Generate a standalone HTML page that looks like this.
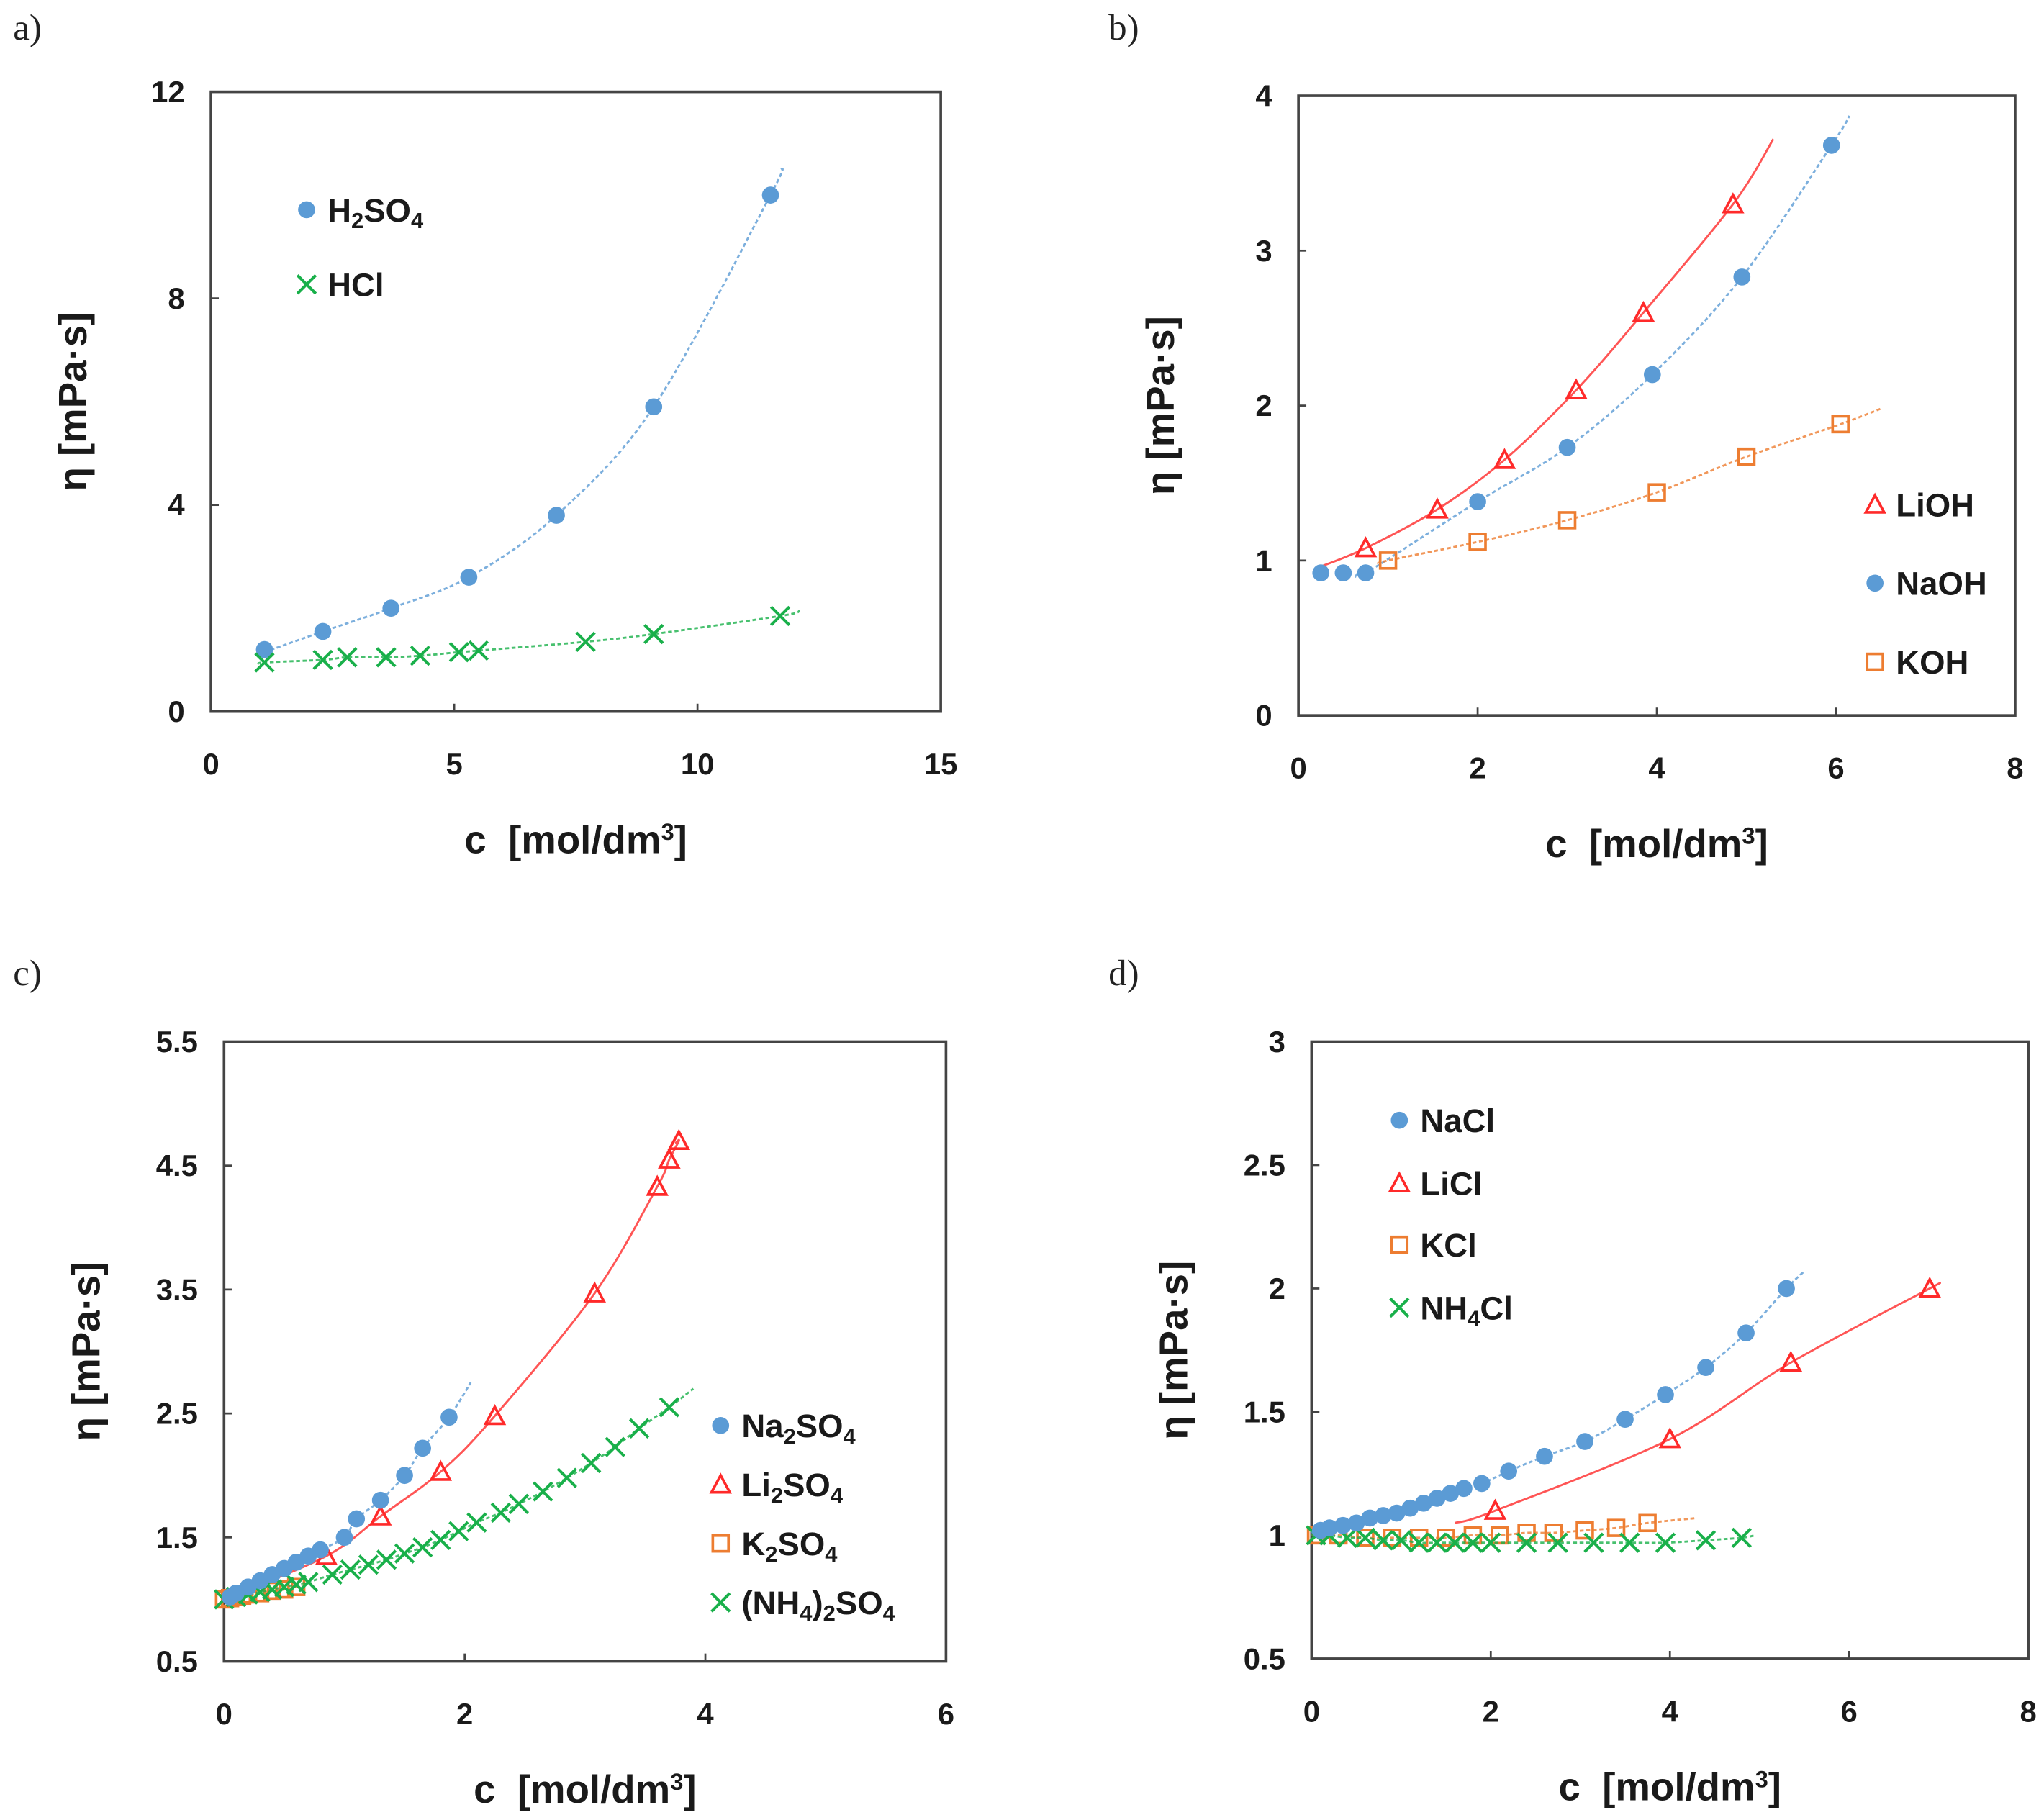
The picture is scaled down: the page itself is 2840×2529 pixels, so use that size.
<!DOCTYPE html>
<html><head><meta charset="utf-8">
<style>
html,body{margin:0;padding:0;background:#fff;}
svg{display:block;}
text{font-family:"Liberation Sans",sans-serif;}
.tick{font-size:23px;font-weight:bold;fill:#1a1a1a;}
.title{font-size:30px;font-weight:bold;fill:#1a1a1a;}
.leg{font-size:25px;font-weight:bold;fill:#1a1a1a;}
.plab{font-family:"Liberation Serif",serif;font-size:28px;fill:#222;}
</style></head>
<body>
<svg id="fig" width="2840" height="2529" viewBox="0 0 1560 1389" xmlns="http://www.w3.org/2000/svg"></svg>
<script>
// ---- data ----
const aH2SO4X=[1.1,2.3,3.7,5.3,7.1,9.1,11.5];
const aH2SO4Y=[1.2,1.55,2.0,2.6,3.8,5.9,10.0];
const aHClX=[1.1,2.3,2.8,3.6,4.3,5.1,5.5,7.7,9.1,11.7];
const aHClY=[0.95,1.0,1.05,1.05,1.08,1.15,1.18,1.35,1.5,1.85];
const bLiOHX=[0.75,1.55,2.3,3.1,3.85,4.85];
const bLiOHY=[1.08,1.33,1.65,2.1,2.6,3.3];
const bNaOHX=[0.25,0.5,0.75,2,3,3.95,4.95,5.95];
const bNaOHY=[0.92,0.92,0.92,1.38,1.73,2.2,2.83,3.68];
const bKOHX=[1,2,3,4,5,6.05];
const bKOHY=[1.0,1.12,1.26,1.44,1.67,1.88];
const cNaX=[0.05,0.1,0.2,0.3,0.4,0.5,0.6,0.7,0.8,1.0,1.1,1.3,1.5,1.65,1.87];
const cNaY=[1.02,1.05,1.1,1.15,1.2,1.25,1.3,1.35,1.4,1.5,1.65,1.8,2.0,2.22,2.47];
const cLiX=[0.85,1.3,1.8,2.25,3.08,3.6,3.7,3.78];
const cLiY=[1.35,1.67,2.03,2.48,3.47,4.33,4.55,4.7];
const cKX=[0,0.05,0.1,0.15,0.2,0.3,0.4,0.5,0.6];
const cKY=[1.0,1.01,1.02,1.03,1.04,1.05,1.07,1.08,1.1];
const cNHX=[0,0.1,0.2,0.3,0.4,0.5,0.6,0.7,0.9,1.05,1.2,1.35,1.5,1.65,1.8,1.95,2.1,2.3,2.45,2.65,2.85,3.05,3.25,3.45,3.7];
const cNHY=[1.0,1.02,1.04,1.06,1.08,1.1,1.12,1.14,1.2,1.24,1.28,1.32,1.37,1.42,1.48,1.55,1.62,1.7,1.77,1.87,1.98,2.1,2.23,2.38,2.55];
const dNaX=[0.1,0.2,0.35,0.5,0.65,0.8,0.95,1.1,1.25,1.4,1.55,1.7,1.9,2.2,2.6,3.05,3.5,3.95,4.4,4.85,5.3];
const dNaY=[1.02,1.03,1.04,1.05,1.07,1.08,1.09,1.11,1.13,1.15,1.17,1.19,1.21,1.26,1.32,1.38,1.47,1.57,1.68,1.82,2.0];
const dLiX=[2.05,4.0,5.35,6.9];
const dLiY=[1.1,1.39,1.7,2.0];
const dKX=[0.05,0.3,0.6,0.9,1.2,1.5,1.8,2.1,2.4,2.7,3.05,3.4,3.75];
const dKY=[1.0,1.0,0.99,0.99,0.99,0.99,1.0,1.0,1.01,1.01,1.02,1.03,1.05];
const dNHX=[0.05,0.2,0.4,0.6,0.8,1.0,1.2,1.4,1.6,1.8,2.0,2.4,2.75,3.15,3.55,3.95,4.4,4.8];
const dNHY=[1.0,1.0,0.99,0.99,0.98,0.98,0.97,0.97,0.97,0.97,0.97,0.97,0.97,0.97,0.97,0.97,0.98,0.99];
// trend line start/end extension points [x0,y0,x1,y1]
const aH2SO4T=[1.1,1.15,11.7,10.5], aHClT=[1.0,0.92,12.1,1.95];
const bLiOHT=[0.2,0.95,5.3,3.72], bNaOHT=[0.7,0.95,6.15,3.87], bKOHT=[0.9,0.98,6.5,1.98];
const cNaT=[0,1.0,2.05,2.75], cLiT=[0,1.0,3.75,4.68], cKT=[0,1.0,0.65,1.11], cNHT=[0,1.0,3.9,2.7];
const dNaT=[0,1.01,5.5,2.07], dLiT=[1.6,1.05,6.9,2.0], dKT=[0,1.0,4.3,1.07], dNHT=[0,1.0,4.95,1.0];

const NS='http://www.w3.org/2000/svg';
const svg=document.getElementById('fig');
function el(tag,attrs,parent){const e=document.createElementNS(NS,tag);for(const k in attrs)e.setAttribute(k,attrs[k]);(parent||svg).appendChild(e);return e;}
const BLUE='#5b9bd5',RED='#ff2a2a',ORANGE='#ed7d31',GREEN='#19b04a';

function panel(p){
  const g=el('g',{});
  
  
  const sx=v=>p.x0+(v-p.xmin)/(p.xmax-p.xmin)*(p.x1-p.x0);
  const sy=v=>p.y1-(v-p.ymin)/(p.ymax-p.ymin)*(p.y1-p.y0);
  const fr=el('rect',{x:p.x0,y:p.y0,width:p.x1-p.x0,height:p.y1-p.y0,fill:'none',stroke:'#444',"stroke-width":2},g);
  
  
  p.xt.forEach(v=>{
    el('line',{x1:sx(v),x2:sx(v),y1:p.y1,y2:p.y1-6,stroke:'#444','stroke-width':1.5},g);
    const t=el('text',{x:sx(v),y:p.y1+48,'text-anchor':'middle',class:'tick'},g);t.textContent=v;
    
    
  });
  p.yt.forEach(v=>{
    el('line',{x1:p.x0,x2:p.x0+6,y1:sy(v),y2:sy(v),stroke:'#444','stroke-width':1.5},g);
    const t=el('text',{x:p.x0-20,y:sy(v)+8,'text-anchor':'end',class:'tick'},g);t.textContent=v;
    
    
  });
  const xt=el('text',{x:(p.x0+p.x1)/2,y:p.y1+108,'text-anchor':'middle',class:'title'},g);
  xt.innerHTML='c&#160;&#160;[mol/dm<tspan dy="-10" font-size="18">3</tspan><tspan dy="10">]</tspan>';
  
  
  const cy=(p.y0+p.y1)/2, tx=p.x0-95;
  const yt=el('text',{x:tx,y:cy,'text-anchor':'middle',class:'title',transform:`rotate(-90 ${tx} ${cy})`},g);
  yt.textContent='η  [mPa·s]';
  
  
  const pl=el('text',{x:p.lx,y:p.ly,class:'plab'},g);pl.textContent=p.label;
  
  
  p.series.forEach(s=>{
    const pts=[[s.t[0],s.t[1]]].concat(s.x.map((v,i)=>[v,s.y[i]]).filter(q=>q[0]>s.t[0])).concat([[s.t[2],s.t[3]]]);
    const P=pts.map(q=>[sx(q[0]),sy(q[1])]);
    let d='M'+P[0][0]+','+P[0][1];
    for(let i=0;i<P.length-1;i++){
      const p0=P[Math.max(0,i-1)],p1=P[i],p2=P[i+1],p3=P[Math.min(P.length-1,i+2)];
      const c1=[p1[0]+(p2[0]-p0[0])/6,p1[1]+(p2[1]-p0[1])/6],c2=[p2[0]-(p3[0]-p1[0])/6,p2[1]-(p3[1]-p1[1])/6];
      d+=`C${c1[0]},${c1[1]} ${c2[0]},${c2[1]} ${p2[0]},${p2[1]}`;
    }
    const ln=el('path',{d:d,fill:'none',stroke:s.c,'stroke-width':1.6,'stroke-dasharray':s.solid?'none':'3,2',opacity:0.8},g);
    
    
    s.x.forEach((v,i)=>{
      const m=marker(s.m,sx(v),sy(s.y[i]),s.c,g);
      
      
    });
    const lm=marker(s.m,s.lx,s.ly,s.c,g);
    
    
    const lt=el('text',{x:s.lx+16,y:s.ly+9,class:'leg'},g);lt.innerHTML=s.lab;
    
    
  });
}
function marker(type,x,y,c,g){
  if(type==='dot')return el('circle',{cx:x,cy:y,r:6.5,fill:c},g);
  if(type==='tri')return el('path',{d:`M${x},${y-7}L${x+7},${y+6}L${x-7},${y+6}Z`,fill:'none',stroke:c,'stroke-width':2},g);
  if(type==='sq')return el('rect',{x:x-6,y:y-6,width:12,height:12,fill:'none',stroke:c,'stroke-width':2},g);
  const gg=el('path',{d:`M${x-7},${y-7}L${x+7},${y+7}M${x+7},${y-7}L${x-7},${y+7}`,stroke:c,'stroke-width':2.2,fill:'none'},g);
  return gg;
}
const sub=(t)=>`<tspan dy="5" font-size="17">${t}</tspan><tspan dy="-5">`;
panel({name:'panel-a',label:'a)',lx:10,ly:30,x0:161,x1:718,y0:70,y1:543,xmin:0,xmax:15,ymin:0,ymax:12,xt:[0,5,10,15],yt:[0,4,8,12],
 series:[
  {key:'h2so4',x:aH2SO4X,y:aH2SO4Y,t:aH2SO4T,c:BLUE,m:'dot',lx:234,ly:160,lab:'H'+sub('2')+'SO'+'</tspan>'+sub('4')+'</tspan>'},
  {key:'hcl',x:aHClX,y:aHClY,t:aHClT,c:GREEN,m:'x',lx:234,ly:217,lab:'HCl'}]});
panel({name:'panel-b',label:'b)',lx:846,ly:30,x0:991,x1:1538,y0:73,y1:546,xmin:0,xmax:8,ymin:0,ymax:4,xt:[0,2,4,6,8],yt:[0,1,2,3,4],
 series:[
  {key:'lioh',x:bLiOHX,y:bLiOHY,t:bLiOHT,c:RED,m:'tri',solid:true,lx:1431,ly:385,lab:'LiOH'},
  {key:'naoh',x:bNaOHX,y:bNaOHY,t:bNaOHT,c:BLUE,m:'dot',lx:1431,ly:445,lab:'NaOH'},
  {key:'koh',x:bKOHX,y:bKOHY,t:bKOHT,c:ORANGE,m:'sq',lx:1431,ly:505,lab:'KOH'}]});
panel({name:'panel-c',label:'c)',lx:10,ly:752,x0:171,x1:722,y0:795,y1:1268,xmin:0,xmax:6,ymin:0.5,ymax:5.5,xt:[0,2,4,6],yt:[0.5,1.5,2.5,3.5,4.5,5.5],
 series:[
  {key:'k2so4',x:cKX,y:cKY,t:cKT,c:ORANGE,m:'sq',lx:550,ly:1178,lab:'K'+sub('2')+'SO</tspan>'+sub('4')+'</tspan>'},
  {key:'nh4-2so4',x:cNHX,y:cNHY,t:cNHT,c:GREEN,m:'x',lx:550,ly:1223,lab:'(NH'+sub('4')+')</tspan>'+sub('2')+'SO</tspan>'+sub('4')+'</tspan>'},
  {key:'li2so4',x:cLiX,y:cLiY,t:cLiT,c:RED,m:'tri',solid:true,lx:550,ly:1133,lab:'Li'+sub('2')+'SO</tspan>'+sub('4')+'</tspan>'},
  {key:'na2so4',x:cNaX,y:cNaY,t:cNaT,c:BLUE,m:'dot',lx:550,ly:1088,lab:'Na'+sub('2')+'SO</tspan>'+sub('4')+'</tspan>'}]});
panel({name:'panel-d',label:'d)',lx:846,ly:752,x0:1001,x1:1548,y0:795,y1:1266,xmin:0,xmax:8,ymin:0.5,ymax:3,xt:[0,2,4,6,8],yt:[0.5,1,1.5,2,2.5,3],
 series:[
  {key:'kcl',x:dKX,y:dKY,t:dKT,c:ORANGE,m:'sq',lx:1068,ly:950,lab:'KCl'},
  {key:'nh4cl',x:dNHX,y:dNHY,t:dNHT,c:GREEN,m:'x',lx:1068,ly:998,lab:'NH'+sub('4')+'Cl</tspan>'},
  {key:'licl',x:dLiX,y:dLiY,t:dLiT,c:RED,m:'tri',solid:true,lx:1068,ly:903,lab:'LiCl'},
  {key:'nacl',x:dNaX,y:dNaY,t:dNaT,c:BLUE,m:'dot',lx:1068,ly:855,lab:'NaCl'}]});
</script>
</body></html>
